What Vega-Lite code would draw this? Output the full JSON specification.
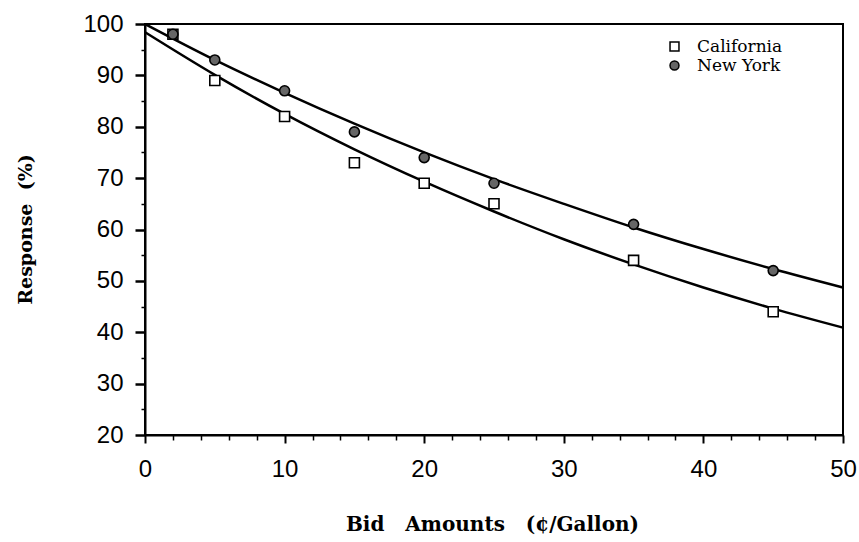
{
  "$schema": "https://vega.github.io/schema/vega-lite/v6.json",
  "width": 698,
  "height": 411,
  "autosize": {"type": "none"},
  "padding": {"left": 145, "top": 24, "right": 16, "bottom": 107},
  "background": "white",
  "datasets": {
    "curves": [
      {"bid": 0, "response": 98.4, "series": "California"},
      {"bid": 5, "response": 90.1, "series": "California"},
      {"bid": 10, "response": 82.5, "series": "California"},
      {"bid": 15, "response": 75.6, "series": "California"},
      {"bid": 20, "response": 69.3, "series": "California"},
      {"bid": 25, "response": 63.5, "series": "California"},
      {"bid": 30, "response": 58.1, "series": "California"},
      {"bid": 35, "response": 53.2, "series": "California"},
      {"bid": 40, "response": 48.7, "series": "California"},
      {"bid": 45, "response": 44.6, "series": "California"},
      {"bid": 50, "response": 40.9, "series": "California"},
      {"bid": 0, "response": 100, "series": "New York"},
      {"bid": 5, "response": 93.0, "series": "New York"},
      {"bid": 10, "response": 86.6, "series": "New York"},
      {"bid": 15, "response": 80.6, "series": "New York"},
      {"bid": 20, "response": 75.0, "series": "New York"},
      {"bid": 25, "response": 69.8, "series": "New York"},
      {"bid": 30, "response": 65.0, "series": "New York"},
      {"bid": 35, "response": 60.4, "series": "New York"},
      {"bid": 40, "response": 56.2, "series": "New York"},
      {"bid": 45, "response": 52.3, "series": "New York"},
      {"bid": 50, "response": 48.7, "series": "New York"}
    ],
    "points": [
      {"bid": 2, "response": 98, "series": "California"},
      {"bid": 5, "response": 89, "series": "California"},
      {"bid": 10, "response": 82, "series": "California"},
      {"bid": 15, "response": 73, "series": "California"},
      {"bid": 20, "response": 69, "series": "California"},
      {"bid": 25, "response": 65, "series": "California"},
      {"bid": 35, "response": 54, "series": "California"},
      {"bid": 45, "response": 44, "series": "California"},
      {"bid": 2, "response": 98, "series": "New York"},
      {"bid": 5, "response": 93, "series": "New York"},
      {"bid": 10, "response": 87, "series": "New York"},
      {"bid": 15, "response": 79, "series": "New York"},
      {"bid": 20, "response": 74, "series": "New York"},
      {"bid": 25, "response": 69, "series": "New York"},
      {"bid": 35, "response": 61, "series": "New York"},
      {"bid": 45, "response": 52, "series": "New York"}
    ]
  },
  "encoding": {
    "x": {
      "field": "bid", "type": "quantitative",
      "scale": {"domain": [0, 50], "nice": false, "zero": false},
      "axis": {
        "title": "Bid\u00a0\u00a0 Amounts\u00a0\u00a0 (¢/Gallon)",
        "values": [0,2,4,6,8,10,12,14,16,18,20,22,24,26,28,30,32,34,36,38,40,42,44,46,48,50],
        "labelExpr": "datum.value % 10 == 0 ? datum.label : ''",
        "labelFlush": false,
        "tickSize": {"condition": {"test": "datum.value % 10 == 0", "value": 8}, "value": 5},
        "tickWidth": {"condition": {"test": "datum.value % 10 == 0", "value": 2}, "value": 1.5},
        "labelPadding": 14,
        "titleY": 89,
        "titleX": 347,
        "titleBaseline": "middle",
        "titleFontSize": 20
      }
    },
    "y": {
      "field": "response", "type": "quantitative",
      "scale": {"domain": [20, 100], "nice": false, "zero": false},
      "axis": {
        "title": "Response\u00a0 (%)",
        "values": [20,25,30,35,40,45,50,55,60,65,70,75,80,85,90,95,100],
        "labelExpr": "datum.value % 10 == 0 ? datum.label : ''",
        "labelFlush": false,
        "tickSize": {"condition": {"test": "datum.value % 10 == 0", "value": 10}, "value": 4},
        "tickWidth": {"condition": {"test": "datum.value % 10 == 0", "value": 2.5}, "value": 1.5},
        "labelPadding": 12,
        "titleX": -110,
        "titleY": 205,
        "titleAngle": -90,
        "titleBaseline": "bottom",
        "titleAlign": "center",
        "titleFontSize": 19
      }
    }
  },
  "layer": [
    {
      "data": {"name": "curves"},
      "mark": {"type": "line", "color": "black", "strokeWidth": 2.5, "interpolate": "monotone"},
      "encoding": {
        "detail": {"field": "series"}
      }
    },
    {
      "data": {"name": "points"},
      "mark": {"type": "point", "filled": true, "stroke": "black", "strokeWidth": 1.6, "size": 100, "opacity": 1},
      "encoding": {
        "shape": {"field": "series", "type": "nominal", "scale": {"domain": ["California", "New York"], "range": ["square", "circle"]},
          "legend": {"title": null, "encode": {"symbols": {"update": {"stroke": {"value": "black"}, "strokeWidth": {"value": 1.6}}}}}},
        "fill": {"field": "series", "type": "nominal", "scale": {"domain": ["California", "New York"], "range": ["white", "#666666"]},
          "legend": {"title": null, "encode": {"symbols": {"update": {"stroke": {"value": "black"}, "strokeWidth": {"value": 1.6}}}}}}
      }
    }
  ],
  "config": {
    "view": {"stroke": "black", "strokeWidth": 2},
    "axis": {
      "grid": false,
      "domainColor": "black",
      "domainWidth": 2,
      "tickColor": "black",
      "labelColor": "black",
      "labelFont": "Liberation Sans",
      "labelFontSize": 24,
      "labelFontWeight": "normal",
      "titleColor": "black",
      "titleFont": "DejaVu Serif",
      "titleFontSize": 18,
      "titleFontWeight": "bold"
    },
    "legend": {
      "orient": "none",
      "legendX": 521,
      "legendY": 14,
      "labelFont": "DejaVu Serif",
      "labelFontSize": 17,
      "labelColor": "black",
      "symbolSize": 80,
      "labelOffset": 14,
      "rowPadding": 1,
      "labelLimit": 200
    }
  }
}
